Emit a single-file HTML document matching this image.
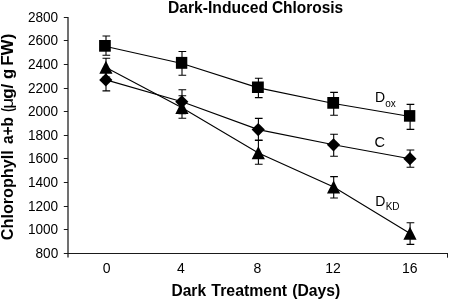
<!DOCTYPE html><html><head><meta charset="utf-8"><title>Dark-Induced Chlorosis</title>
<style>html,body{margin:0;padding:0;background:#fff}svg{display:block}text{font-family:"Liberation Sans",Arial,sans-serif;fill:#000}</style></head><body>
<svg width="450" height="301" viewBox="0 0 450 301">
<rect width="450" height="301" fill="#fff"/>
<g stroke="#1a1a1a" stroke-width="1" fill="none">
<path d="M68.0 17.0V257.5" stroke-width="1.25"/>
<path d="M63.8 253.5H448.0"/>
<path d="M447.5 253.5V257.7"/>
<path d="M63.8 17.5H68.0"/>
<path d="M63.8 40.5H68.0"/>
<path d="M63.8 64.5H68.0"/>
<path d="M63.8 88.5H68.0"/>
<path d="M63.8 111.5H68.0"/>
<path d="M63.8 135.5H68.0"/>
<path d="M63.8 158.5H68.0"/>
<path d="M63.8 182.5H68.0"/>
<path d="M63.8 206.5H68.0"/>
<path d="M63.8 229.5H68.0"/>
</g>
<g font-size="14" text-anchor="end">
<text x="58.2" y="22.10" textLength="30.26" lengthAdjust="spacingAndGlyphs">2800</text>
<text x="58.2" y="45.10" textLength="30.26" lengthAdjust="spacingAndGlyphs">2600</text>
<text x="58.2" y="69.10" textLength="30.26" lengthAdjust="spacingAndGlyphs">2400</text>
<text x="58.2" y="93.10" textLength="30.26" lengthAdjust="spacingAndGlyphs">2200</text>
<text x="58.2" y="116.10" textLength="30.26" lengthAdjust="spacingAndGlyphs">2000</text>
<text x="58.2" y="140.10" textLength="30.26" lengthAdjust="spacingAndGlyphs">1800</text>
<text x="58.2" y="163.10" textLength="30.26" lengthAdjust="spacingAndGlyphs">1600</text>
<text x="58.2" y="187.10" textLength="30.26" lengthAdjust="spacingAndGlyphs">1400</text>
<text x="58.2" y="211.10" textLength="30.26" lengthAdjust="spacingAndGlyphs">1200</text>
<text x="58.2" y="234.10" textLength="30.26" lengthAdjust="spacingAndGlyphs">1000</text>
<text x="58.2" y="258.10" textLength="22.70" lengthAdjust="spacingAndGlyphs">800</text>
</g>
<g font-size="14" text-anchor="middle">
<text x="106.60" y="272.5">0</text>
<text x="180.85" y="272.5">4</text>
<text x="257.50" y="272.5">8</text>
<text x="333.10" y="272.5">12</text>
<text x="409.70" y="272.5">16</text>
</g>
<text x="168.00" y="12.9" font-size="15.6" font-weight="bold" textLength="100.04" lengthAdjust="spacingAndGlyphs">Dark-Induced</text>
<text x="271.88" y="12.9" font-size="15.6" font-weight="bold" textLength="71.29" lengthAdjust="spacingAndGlyphs">Chlorosis</text>
<text x="171.50" y="295.6" font-size="15.6" font-weight="bold" textLength="34.56" lengthAdjust="spacingAndGlyphs">Dark</text>
<text x="211.37" y="295.6" font-size="15.6" font-weight="bold" textLength="75.79" lengthAdjust="spacingAndGlyphs">Treatment</text>
<text x="292.24" y="295.6" font-size="15.6" font-weight="bold" textLength="48.06" lengthAdjust="spacingAndGlyphs">(Days)</text>
<text transform="translate(13.2 0) rotate(-90)" x="-240.15" y="0" font-size="15.6" font-weight="bold" textLength="89.83" lengthAdjust="spacingAndGlyphs">Chlorophyll</text>
<text transform="translate(13.2 0) rotate(-90)" x="-144.10" y="0" font-size="15.6" font-weight="bold" textLength="27.08" lengthAdjust="spacingAndGlyphs">a+b</text>
<text transform="translate(13.2 0) rotate(-90)" x="-111.65" y="0" font-size="15.6" font-weight="bold" textLength="3.81" lengthAdjust="spacingAndGlyphs">(</text>
<text transform="translate(13.2 0) rotate(-90)" x="-108.72" y="0" font-size="15.6" font-weight="normal" textLength="11.00" lengthAdjust="spacingAndGlyphs">μ</text>
<text transform="translate(13.2 0) rotate(-90)" x="-98.78" y="0" font-size="15.6" font-weight="bold" textLength="15.10" lengthAdjust="spacingAndGlyphs">g/</text>
<text transform="translate(13.2 0) rotate(-90)" x="-79.07" y="0" font-size="15.6" font-weight="bold" textLength="10.29" lengthAdjust="spacingAndGlyphs">g</text>
<text transform="translate(13.2 0) rotate(-90)" x="-65.79" y="0" font-size="15.6" font-weight="bold" textLength="32.07" lengthAdjust="spacingAndGlyphs">FW)</text>
<g stroke="#000" stroke-width="1.1" fill="none">
<path d="M106.0 46.45 L182.0 63.50 L258.4 87.85 L333.7 103.50 L410.1 116.50"/>
<path d="M106.0 79.90 L182.0 101.80 L258.4 129.60 L333.7 144.80 L410.1 158.70"/>
<path d="M106.0 67.50 L182.0 107.80 L258.4 152.90 L333.7 187.10 L410.1 233.50"/>
<path d="M106.0 36.0V55.3M102.5 36.0h7.7M102.5 55.3h7.7"/>
<path d="M182.0 51.5V75.3M178.5 51.5h7.7M178.5 75.3h7.7"/>
<path d="M258.4 78.2V97.6M254.9 78.2h7.7M254.9 97.6h7.7"/>
<path d="M333.7 92.4V115.3M330.2 92.4h7.7M330.2 115.3h7.7"/>
<path d="M410.1 104.4V129.4M406.6 104.4h7.7M406.6 129.4h7.7"/>
<path d="M106.0 69.0V90.9M102.5 69.0h7.7M102.5 90.9h7.7"/>
<path d="M182.0 89.7V113.8M178.5 89.7h7.7M178.5 113.8h7.7"/>
<path d="M258.4 118.4V140.0M254.9 118.4h7.7M254.9 140.0h7.7"/>
<path d="M333.7 134.3V156.3M330.2 134.3h7.7M330.2 156.3h7.7"/>
<path d="M410.1 150.0V167.3M406.6 150.0h7.7M406.6 167.3h7.7"/>
<path d="M106.0 58.2V77.0M102.5 58.2h7.7M102.5 77.0h7.7"/>
<path d="M182.0 95.7V118.3M178.5 95.7h7.7M178.5 118.3h7.7"/>
<path d="M258.4 140.5V164.3M254.9 140.5h7.7M254.9 164.3h7.7"/>
<path d="M333.7 176.6V198.0M330.2 176.6h7.7M330.2 198.0h7.7"/>
<path d="M410.1 222.7V244.4M406.6 222.7h7.7M406.6 244.4h7.7"/>
</g>
<g fill="#000">
<path d="M105.9 60.8L112.5 73.8H99.3Z"/>
<path d="M181.9 101.1L188.5 114.1H175.3Z"/>
<path d="M258.3 146.2L264.9 159.2H251.7Z"/>
<path d="M333.6 180.4L340.2 193.4H327.0Z"/>
<path d="M410.0 226.8L416.6 239.8H403.4Z"/>
<path d="M105.8 73.3L112.4 79.9L105.8 86.5L99.2 79.9Z"/>
<path d="M181.8 95.2L188.4 101.8L181.8 108.4L175.2 101.8Z"/>
<path d="M258.2 123.0L264.8 129.6L258.2 136.2L251.6 129.6Z"/>
<path d="M333.5 138.2L340.1 144.8L333.5 151.4L326.9 144.8Z"/>
<path d="M409.9 152.1L416.5 158.7L409.9 165.3L403.3 158.7Z"/>
<rect x="99.10" y="40.00" width="11.70" height="11.70"/>
<rect x="175.90" y="56.90" width="11.40" height="11.90"/>
<rect x="251.95" y="81.50" width="11.85" height="11.50"/>
<rect x="327.30" y="97.00" width="11.80" height="11.75"/>
<rect x="403.95" y="110.10" width="11.35" height="11.60"/>
</g>
<text x="375.0" y="102.2" font-size="14">D<tspan font-size="10" dy="4.6">ox</tspan></text>
<text x="374.4" y="146.9" font-size="14.6">C</text>
<text x="375.2" y="205.5" font-size="14">D<tspan font-size="10" dx="0.3" dy="4.6">KD</tspan></text>
</svg></body></html>
